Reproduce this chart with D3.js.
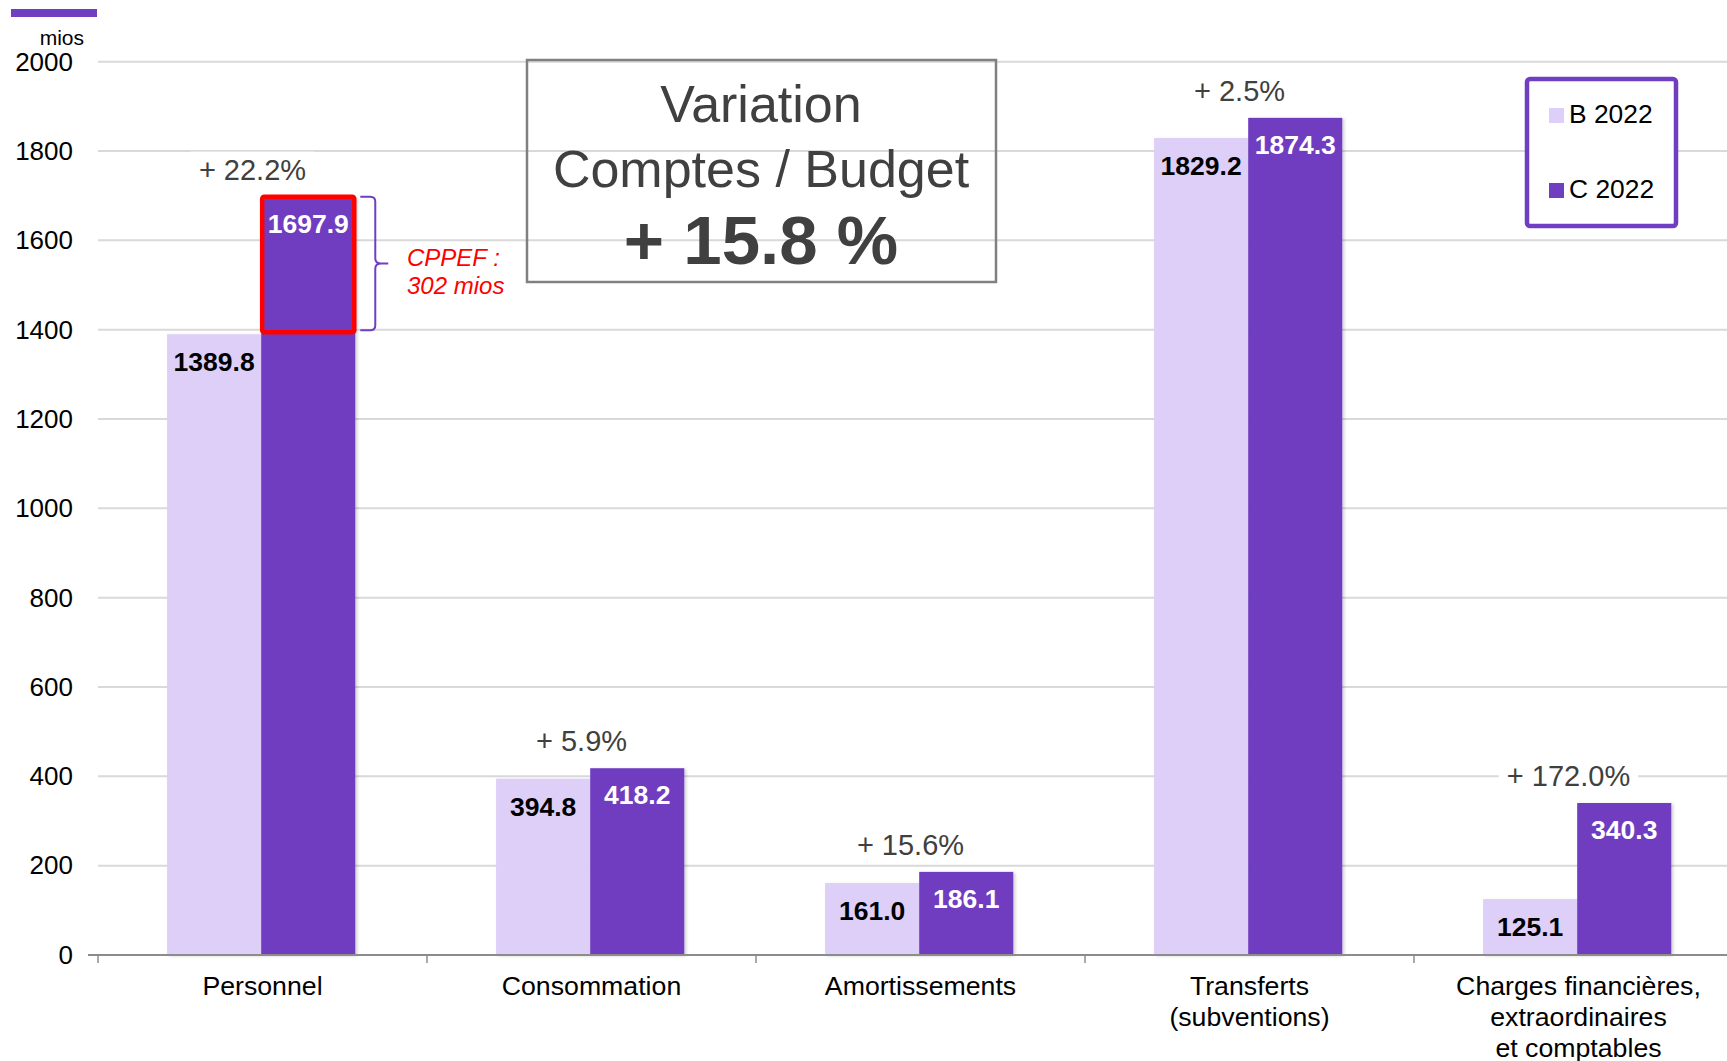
<!DOCTYPE html>
<html>
<head>
<meta charset="utf-8">
<script src="https://cdn.jsdelivr.net/npm/d3@7"></script>
<style>
  html, body { margin: 0; padding: 0; background: #fff; }
  svg { display: block; font-family: "Liberation Sans", Arial, sans-serif; }
</style>
</head>
<body>
<svg id="chart" width="1727" height="1061"></svg>
<script>
// ---- data ----
const categories = ["Personnel", "Consommation", "Amortissements", "Transferts", "Charges"];
const categoryLabels = [
  ["Personnel"],
  ["Consommation"],
  ["Amortissements"],
  ["Transferts", "(subventions)"],
  ["Charges financières,", "extraordinaires", "et comptables"]
];
const seriesNames = ["B 2022", "C 2022"];
const budget2022 = [1389.8, 394.8, 161.0, 1829.2, 125.1];
const comptes2022 = [1697.9, 418.2, 186.1, 1874.3, 340.3];
const variationLabels = ["+ 22.2%", "+ 5.9%", "+ 15.6%", "+ 2.5%", "+ 172.0%"];
const yTicks = [0, 200, 400, 600, 800, 1000, 1200, 1400, 1600, 1800, 2000];
const titleLines = ["Variation", "Comptes / Budget"];
const totalVariation = "+ 15.8 %";
const annotation = ["CPPEF :", "302 mios"];

// ---- styles ----
const lightColor = "#DDCFF8";
const darkColor = "#6F3EC1";
const textGray = "#404040";

const svg = d3.select("#chart");
const defs = svg.append("defs");
const f = defs.append("filter").attr("id", "shadow").attr("x", "-10%").attr("y", "-10%").attr("width", "130%").attr("height", "130%");
f.append("feDropShadow").attr("dx", 2).attr("dy", 1).attr("stdDeviation", 1.5).attr("flood-color", "#000").attr("flood-opacity", 0.18);

const plotLeft = 98, plotRight = 1743, y0px = 955, yTopPx = 61.7;

const y = d3.scaleLinear().domain([0, 2000]).range([y0px, yTopPx]);
const x0 = d3.scaleBand().domain(categories).range([plotLeft, plotRight]).padding(0);
const bw = x0.bandwidth();
const x1 = d3.scaleBand().domain(seriesNames).range([bw * 0.21, bw * 0.21 + bw * 0.572]).padding(0);

// top-left decoration
svg.append("rect").attr("x", 11).attr("y", 9).attr("width", 86).attr("height", 8).attr("fill", darkColor);
svg.append("text").attr("x", 84).attr("y", 45).attr("text-anchor", "end")
  .attr("font-size", 21).attr("fill", "#000").text("mios");

// gridlines
svg.append("g").selectAll("line").data(yTicks.filter(d => d > 0)).join("line")
  .attr("x1", plotLeft).attr("x2", 1727)
  .attr("y1", d => y(d)).attr("y2", d => y(d))
  .attr("stroke", "#d9d9d9").attr("stroke-width", 2);

// y axis labels
const yAxis = d3.axisLeft(y).tickValues(yTicks).tickSize(0).tickPadding(0).tickFormat(d3.format("d"));
const yg = svg.append("g").attr("transform", `translate(73,0)`).call(yAxis);
yg.select(".domain").remove();
yg.selectAll("text").attr("font-size", 26).attr("fill", "#000")
  .attr("font-family", "Liberation Sans, Arial, sans-serif");

// title box (transparent)
svg.append("rect").attr("x", 527).attr("y", 60).attr("width", 469).attr("height", 222)
  .attr("fill", "none").attr("stroke", "#808080").attr("stroke-width", 2.5);
svg.append("text").attr("x", 761).attr("y", 122).attr("text-anchor", "middle")
  .attr("font-size", 52).attr("fill", textGray).text(titleLines[0]);
svg.append("text").attr("x", 761).attr("y", 187).attr("text-anchor", "middle")
  .attr("font-size", 52).attr("fill", textGray).text(titleLines[1]);
svg.append("text").attr("x", 761).attr("y", 264).attr("text-anchor", "middle")
  .attr("font-size", 69).attr("font-weight", "bold").attr("fill", textGray).text(totalVariation);

// bars
const groups = svg.append("g").selectAll("g").data(categories).join("g")
  .attr("transform", d => `translate(${x0(d)},0)`);

groups.append("rect")
  .attr("x", x1("B 2022")).attr("width", x1.bandwidth())
  .attr("y", (d, i) => y(budget2022[i])).attr("height", (d, i) => y0px - y(budget2022[i]))
  .attr("fill", lightColor).attr("filter", "url(#shadow)");
groups.append("rect")
  .attr("x", x1("C 2022")).attr("width", x1.bandwidth())
  .attr("y", (d, i) => y(comptes2022[i])).attr("height", (d, i) => y0px - y(comptes2022[i]))
  .attr("fill", darkColor).attr("filter", "url(#shadow)");

// value labels
groups.append("text")
  .attr("x", x1("B 2022") + x1.bandwidth() / 2)
  .attr("y", (d, i) => y(budget2022[i]) + 28)
  .attr("text-anchor", "middle").attr("dominant-baseline", "central")
  .attr("font-size", 26.5).attr("font-weight", "bold").attr("fill", "#000")
  .text((d, i) => d3.format(".1f")(budget2022[i]));
groups.append("text")
  .attr("x", x1("C 2022") + x1.bandwidth() / 2)
  .attr("y", (d, i) => y(comptes2022[i]) + 27)
  .attr("text-anchor", "middle").attr("dominant-baseline", "central")
  .attr("font-size", 26.5).attr("font-weight", "bold").attr("fill", "#fff")
  .text((d, i) => d3.format(".1f")(comptes2022[i]));

// variation labels with white background
groups.each(function (d, i) {
  const g = d3.select(this);
  const cx = bw / 2 - 10;
  const cy = y(Math.max(budget2022[i], comptes2022[i])) - 27;
  const t = g.append("text").attr("x", cx).attr("y", cy)
    .attr("text-anchor", "middle").attr("dominant-baseline", "central")
    .attr("font-size", 29).attr("fill", textGray).text(variationLabels[i]);
  const bb = t.node().getBBox();
  g.insert("rect", "text").attr("x", bb.x - 8).attr("y", bb.y - 2)
    .attr("width", bb.width + 16).attr("height", bb.height + 4).attr("fill", "#fff");
});

// x axis
svg.append("line").attr("x1", plotLeft - 10).attr("x2", 1727).attr("y1", y0px).attr("y2", y0px)
  .attr("stroke", "#8c8c8c").attr("stroke-width", 2);
const tickXs = categories.map(c => x0(c)).concat([plotRight]);
svg.append("g").selectAll("line").data(tickXs).join("line")
  .attr("x1", d => d).attr("x2", d => d).attr("y1", y0px).attr("y2", y0px + 8)
  .attr("stroke", "#8c8c8c").attr("stroke-width", 1.5);

// category labels
groups.append("text")
  .attr("text-anchor", "middle").attr("font-size", 26.7).attr("fill", "#000")
  .selectAll("tspan").data((d, i) => categoryLabels[i]).join("tspan")
  .attr("x", bw / 2).attr("y", (d, j) => 995 + j * 31).text(d => d);

// red highlight on Personnel comptes bar
const px = x0("Personnel") + x1("C 2022");
svg.append("rect").attr("x", px + 1).attr("y", y(comptes2022[0]))
  .attr("width", x1.bandwidth() - 2).attr("height", y(budget2022[0]) - y(comptes2022[0]) - 2)
  .attr("fill", "none").attr("stroke", "#ff0000").attr("stroke-width", 4.5).attr("rx", 2);

// curly brace
const bTop = y(comptes2022[0]), bBot = y(budget2022[0]) - 4, bMid = (bTop + bBot) / 2;
const bx = px + x1.bandwidth() + 5;
const brace = `M${bx},${bTop} L${bx + 10},${bTop} Q${bx + 15},${bTop} ${bx + 15},${bTop + 5}
  L${bx + 15},${bMid - 5} Q${bx + 15},${bMid} ${bx + 21},${bMid} L${bx + 28},${bMid}
  M${bx + 21},${bMid} Q${bx + 15},${bMid} ${bx + 15},${bMid + 5}
  L${bx + 15},${bBot - 5} Q${bx + 15},${bBot} ${bx + 10},${bBot} L${bx},${bBot}`;
svg.append("path").attr("d", brace).attr("fill", "none").attr("stroke", darkColor).attr("stroke-width", 2);

svg.append("text").attr("x", 407).attr("y", 266).attr("font-size", 24).attr("font-style", "italic")
  .attr("fill", "#ff0000").text(annotation[0]);
svg.append("text").attr("x", 407).attr("y", 294).attr("font-size", 24).attr("font-style", "italic")
  .attr("fill", "#ff0000").text(annotation[1]);

// legend
const lg = svg.append("g");
lg.append("rect").attr("x", 1527).attr("y", 79).attr("width", 149).attr("height", 147).attr("rx", 3)
  .attr("fill", "#fff").attr("stroke", darkColor).attr("stroke-width", 4.5);
const legendColors = [lightColor, darkColor];
lg.selectAll("g.item").data(seriesNames).join("g").attr("class", "item")
  .attr("transform", (d, i) => `translate(1549,${108 + i * 75})`)
  .each(function (d, i) {
    const g = d3.select(this);
    g.append("rect").attr("width", 15).attr("height", 15).attr("fill", legendColors[i]);
    g.append("text").attr("x", 20).attr("y", 15).attr("font-size", 26.4).attr("fill", "#000").text(d);
  });
</script>
</body>
</html>
